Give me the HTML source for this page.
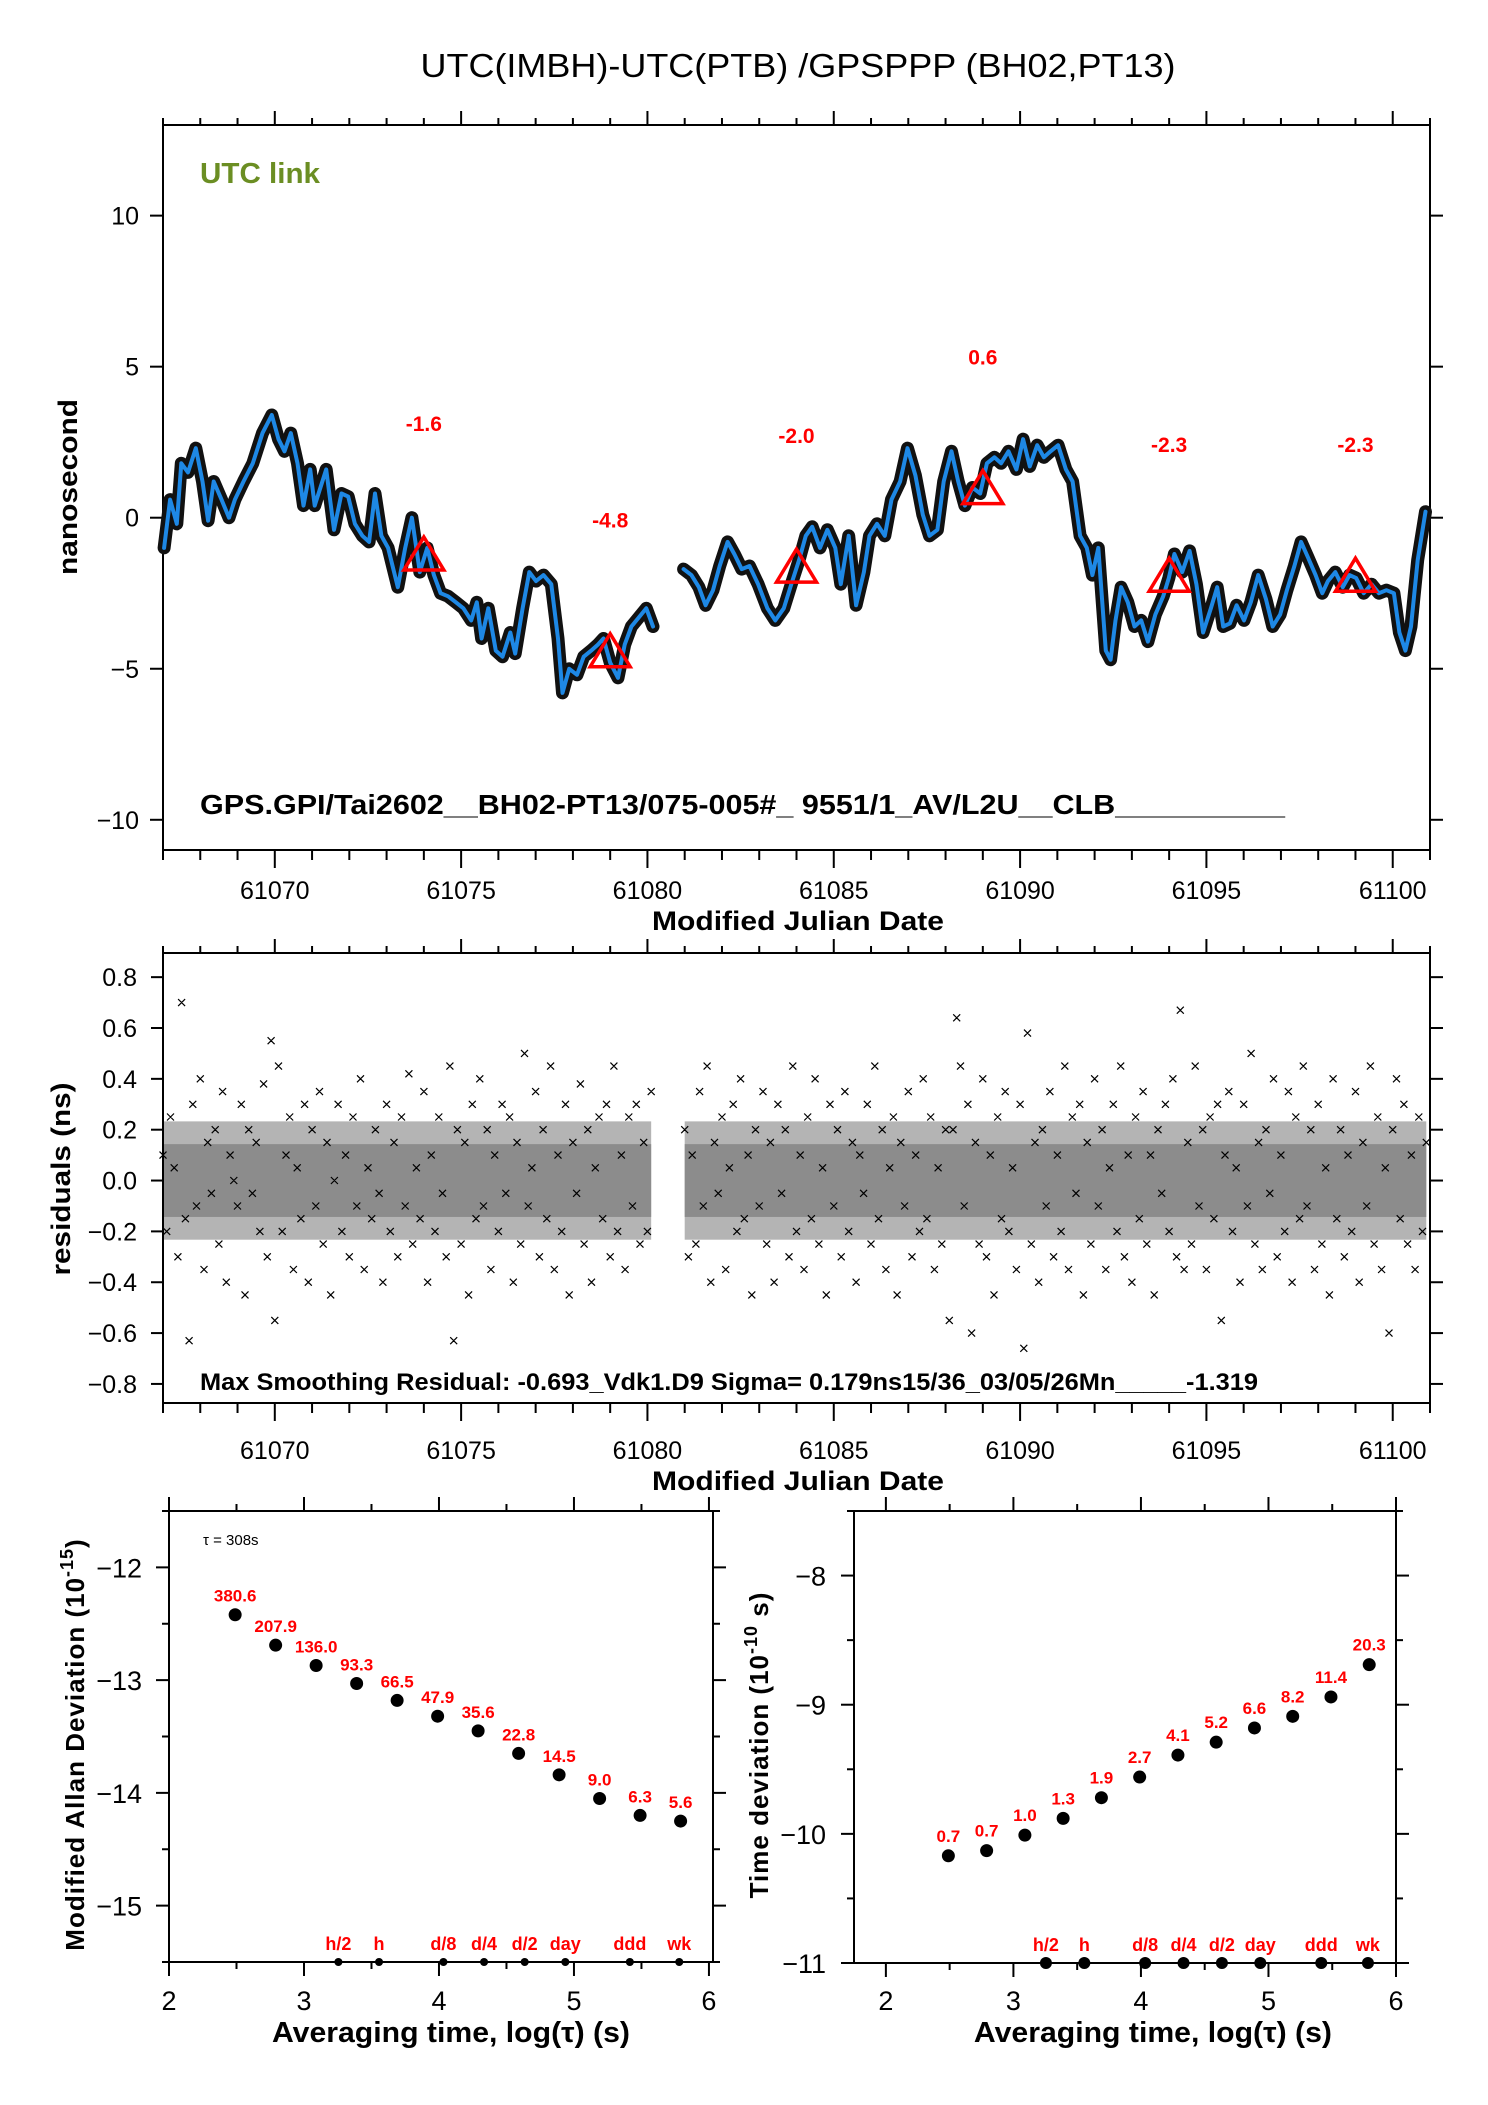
<!DOCTYPE html>
<html><head><meta charset="utf-8"><style>
html,body{margin:0;padding:0;background:#fff}
svg{display:block;font-family:"Liberation Sans",Arial,sans-serif}
</style></head><body>
<svg id="fig" xmlns="http://www.w3.org/2000/svg" width="1488" height="2105" viewBox="0 0 1488 2105">
<rect width="1488" height="2105" fill="#fff"/>
<text x="798" y="77" font-size="33" text-anchor="middle" textLength="755" lengthAdjust="spacingAndGlyphs">UTC(IMBH)-UTC(PTB)  /GPSPPP  (BH02,PT13)</text>
<g id="g1"></g>
<g id="g2"></g>
<g id="g3"></g>
<g id="g4"></g>
</svg>
<script>
// ---- Panel 1 data ----
const tsMjd1 = [61067.03,61067.19,61067.37,61067.49,61067.67,61067.88,61068.06,61068.21,61068.36,61068.57,61068.77,61068.93,61069.16,61069.41,61069.67,61069.92,61070.10,61070.26,61070.43,61070.61,61070.77,61070.95,61071.07,61071.38,61071.59,61071.79,61071.97,61072.15,61072.35,61072.53,61072.69,61072.86,61073.04,61073.30,61073.50,61073.68,61073.89,61074.09,61074.27,61074.45,61074.65,61074.86,61075.06,61075.27,61075.42,61075.55,61075.73,61075.93,61076.11,61076.32,61076.45,61076.65,61076.83,61077.01,61077.21,61077.42,61077.60,61077.72,61077.90,61078.11,61078.29,61078.49,61078.67,61078.82,61079.00,61079.21,61079.39,61079.57,61079.77,61079.97,61080.15];
const tsVal1 = [-1.0,0.6,-0.2,1.8,1.5,2.3,1.2,-0.1,1.2,0.6,0,0.6,1.2,1.8,2.8,3.4,2.6,2.2,2.8,1.8,0.4,1.6,0.4,1.6,-0.4,0.8,0.7,-0.2,-0.6,-0.8,0.8,-0.6,-1.0,-2.3,-1.0,0,-1.8,-1.0,-1.9,-2.5,-2.6,-2.8,-3.0,-3.4,-2.8,-4.0,-3.0,-4.4,-4.6,-3.8,-4.5,-3.0,-1.8,-2.1,-1.9,-2.2,-4.0,-5.8,-5.0,-5.2,-4.6,-4.4,-4.2,-4.0,-4.8,-5.3,-4.2,-3.6,-3.3,-3.0,-3.6];
const tsMjd2 = [61080.97,61081.18,61081.38,61081.56,61081.76,61081.94,61082.15,61082.33,61082.53,61082.74,61082.97,61083.22,61083.43,61083.66,61083.86,61084.07,61084.25,61084.42,61084.63,61084.83,61085.04,61085.19,61085.40,61085.60,61085.81,61085.96,61086.16,61086.37,61086.55,61086.78,61086.98,61087.19,61087.39,61087.57,61087.78,61087.95,61088.16,61088.34,61088.52,61088.72,61088.93,61089.11,61089.31,61089.49,61089.69,61089.90,61090.08,61090.26,61090.46,61090.64,61090.82,61091.02,61091.23,61091.41,61091.61,61091.79,61091.94,61092.10,61092.30,61092.43,61092.56,61092.71,61092.89,61093.07,61093.25,61093.43,61093.63,61093.84,61093.99,61094.14,61094.35,61094.55,61094.73,61094.91,61095.12,61095.29,61095.45,61095.63,61095.81,61096.01,61096.19,61096.39,61096.60,61096.78,61096.98,61097.16,61097.36,61097.54,61097.72,61097.93,61098.11,61098.26,61098.46,61098.66,61098.84,61099.02,61099.22,61099.43,61099.63,61099.83,61100.03,61100.18,61100.34,61100.49,61100.67,61100.88];
const tsVal2 = [-1.7,-1.9,-2.3,-2.9,-2.4,-1.6,-0.8,-1.2,-1.7,-1.6,-2.2,-3.0,-3.4,-3.0,-2.2,-1.4,-0.6,-0.3,-1.0,-0.4,-1.0,-2.2,-0.6,-2.9,-1.8,-0.6,-0.2,-0.6,0.6,1.2,2.3,1.4,0.1,-0.6,-0.4,1.2,2.2,1.2,0.4,1.0,0.8,1.8,2.0,1.8,2.2,1.6,2.6,1.7,2.4,2.0,2.2,2.4,1.6,1.2,-0.6,-1.0,-1.9,-1.0,-4.4,-4.7,-3.4,-2.3,-2.8,-3.6,-3.4,-4.1,-3.2,-2.6,-2.0,-1.2,-1.8,-1.1,-2.2,-3.8,-3.0,-2.3,-3.6,-3.5,-2.9,-3.4,-2.8,-1.9,-2.7,-3.6,-3.2,-2.4,-1.6,-0.8,-1.3,-1.9,-2.5,-2.1,-1.8,-2.3,-1.9,-2.0,-2.5,-2.2,-2.5,-2.4,-2.5,-3.8,-4.4,-3.6,-1.4,0.2];
const triMjd = [61074,61079,61084,61089,61094,61099];
const triVal = [-1.6,-4.8,-2.0,0.6,-2.3,-2.3];
const triLabels = ["-1.6","-4.8","-2.0","0.6","-2.3","-2.3"];
const mjdTicks = [61070,61075,61080,61085,61090,61095,61100];
const nsTicks = [-10,-5,0,5,10];
const nsTickLabels = ["\u221210","\u22125","0","5","10"];
// ---- Panel 2 data ----
const resStart1 = 61067.0, resStart2 = 61081.0, resStep = 0.1;
const resid1 = [10,-20,25,5,-30,70,-15,-63,30,-10,40,-35,15,-5,20,-25,35,-40,10,0,-10,30,-45,20,-5,15,-20,38,-30,55,-55,45,-20,10,25,-35,5,-15,30,-40,20,-10,35,-25,15,-45,0,30,-20,10,-30,25,-10,40,-35,5,-15,20,-5,-40,30,-20,15,-30,25,-10,42,-25,5,-15,35,-40,10,-20,25,-5,-30,45,-63,20,-25,15,-45,30,-15,40,-10,20,-35,10,-20,30,-5,25,-40,15,-25,50,-10,5,35,-30,20,-15,45,-35,10,-20,30,-45,15,-5,38,-25,20,-40,5,25,-15,30,-30,45,-20,10,-35,25,-10,30,-25,15,-20,35];
const resid2 = [20,-30,10,-25,35,-10,45,-40,15,-5,25,-35,5,30,-20,40,-15,10,-45,20,-10,35,-25,15,-40,30,-5,20,-30,45,-20,10,-35,25,-15,40,-25,5,-45,30,-10,20,-30,35,-20,15,-40,10,-5,30,-25,45,-15,20,-35,5,25,-45,15,-10,35,-30,10,-20,40,-15,25,-35,5,-25,20,-55,20,64,45,-10,30,-60,15,-25,40,-30,10,-45,25,-15,35,-20,5,-35,30,-66,58,-25,15,-40,20,-10,35,-30,10,-20,45,-35,25,-5,30,-45,15,-25,40,-10,20,-35,5,30,-20,45,-30,10,-40,25,-15,35,-25,10,-45,20,-5,30,-20,40,-30,67,-35,15,-25,45,-10,20,-35,25,-15,30,-55,10,35,-20,5,-40,30,-10,50,-25,15,-35,20,-5,40,-30,10,-20,35,-40,25,-15,45,-10,20,-35,30,-25,5,-45,40,-15,20,-30,10,-20,35,-40,15,-10,45,-25,25,-35,5,-60,20,40,-15,30,-25,10,-35,25,-20,15];
const sigma = 0.179;
const resTicks = [-0.8,-0.6,-0.4,-0.2,0,0.2,0.4,0.6,0.8];
const resTickLabels = ["\u22120.8","\u22120.6","\u22120.4","\u22120.2","0.0","0.2","0.4","0.6","0.8"];
// ---- Panel 3/4 data ----
const logTau = [2.49,2.79,3.09,3.39,3.69,3.99,4.29,4.59,4.89,5.19,5.49,5.79];
const mdevVal = [-12.42,-12.69,-12.87,-13.03,-13.18,-13.32,-13.45,-13.65,-13.84,-14.05,-14.2,-14.25];
const mdevLabels = ["380.6","207.9","136.0","93.3","66.5","47.9","35.6","22.8","14.5","9.0","6.3","5.6"];
const tdevVal = [-10.17,-10.13,-10.01,-9.88,-9.72,-9.56,-9.39,-9.29,-9.18,-9.09,-8.94,-8.69];
const tdevLabels = ["0.7","0.7","1.0","1.3","1.9","2.7","4.1","5.2","6.6","8.2","11.4","20.3"];
const markTau = [3.255,3.556,4.033,4.334,4.635,4.936,5.414,5.78];
const markLabels = ["h/2","h","d/8","d/4","d/2","day","ddd","wk"];
const logTicks = [2,3,4,5,6];
const mdevTicks = [-15,-14,-13,-12];
const tdevTicks = [-11,-10,-9,-8];

const NS = "http://www.w3.org/2000/svg";
function mk(parent, tag, attrs, txt){
  const e = document.createElementNS(NS, tag);
  for (const k in attrs) e.setAttribute(k, attrs[k]);
  if (txt !== undefined) e.textContent = txt;
  parent.appendChild(e);
  return e;
}
function lin(d0,d1,r0,r1){ return v => r0 + (v-d0)*(r1-r0)/(d1-d0); }

// ================= Panel 1 =================
(function(){
  const g = document.getElementById('g1');
  const L=163,R=1430,T=125,B=850;
  const x = lin(61067,61101,L,R), y = lin(-11,13,B,T);
  const frame = mk(g,'rect',{x:L,y:T,width:R-L,height:B-T,fill:'none',stroke:'#000','stroke-width':2});
   
  for (let d=61067; d<=61101; d++){
    const major = d%5===0;
    const len = major?18:10;
    const tb = mk(g,'line',{x1:x(d),x2:x(d),y1:B,y2:B+len,stroke:'#000','stroke-width':2});
     
    const tt = mk(g,'line',{x1:x(d),x2:x(d),y1:T,y2:T-(major?14:7),stroke:'#000','stroke-width':2});
     
  }
  mjdTicks.forEach(m=>{
    const t = mk(g,'text',{x:x(m),y:899,'font-size':25,'text-anchor':'middle'},String(m));
     
  });
  nsTicks.forEach((v,i)=>{
    const a = mk(g,'line',{x1:L-13,x2:L,y1:y(v),y2:y(v),stroke:'#000','stroke-width':2});
     
    const b = mk(g,'line',{x1:R,x2:R+13,y1:y(v),y2:y(v),stroke:'#000','stroke-width':2});
     
    const t = mk(g,'text',{x:139,y:y(v)+9,'font-size':25,'text-anchor':'end'},nsTickLabels[i]);
     
  });
  const xt = mk(g,'text',{x:798,y:930,'font-size':27,'font-weight':'bold','text-anchor':'middle',textLength:292,lengthAdjust:'spacingAndGlyphs'},'Modified Julian Date');
   
  const yt = mk(g,'text',{x:0,y:0,'font-size':27,'font-weight':'bold','text-anchor':'middle',textLength:176,lengthAdjust:'spacingAndGlyphs',transform:'translate(77,487) rotate(-90)'},'nanosecond');
   
  const ul = mk(g,'text',{x:200,y:183,'font-size':29,'font-weight':'bold',fill:'#6b8e23',textLength:120,lengthAdjust:'spacingAndGlyphs'},'UTC link');
   
  const gl = mk(g,'text',{x:200,y:814,'font-size':28,'font-weight':'bold',textLength:1085,lengthAdjust:'spacingAndGlyphs'},'GPS.GPI/Tai2602__BH02-PT13/075-005#_  9551/1_AV/L2U__CLB__________');
   
  [[tsMjd1,tsVal1],[tsMjd2,tsVal2]].forEach(([ms,vs],si)=>{
    const pts = ms.map((m,i)=>x(m).toFixed(1)+','+y(vs[i]).toFixed(1)).join(' ');
    const raw = mk(g,'polyline',{points:pts,fill:'none',stroke:'#111','stroke-width':13,'stroke-linejoin':'round','stroke-linecap':'round'});
     
    const sm = mk(g,'polyline',{points:pts,fill:'none',stroke:'#1e88e5','stroke-width':4,'stroke-linejoin':'round','stroke-linecap':'round'});
     
  });
  triMjd.forEach((m,i)=>{
    const cx=x(m), cy=y(triVal[i]);
    const tr = mk(g,'polygon',{points:`${cx-20},${cy+4} ${cx+20},${cy+4} ${cx},${cy-29}`,fill:'none',stroke:'#f00','stroke-width':3.5});
     
    const lb = mk(g,'text',{x:cx,y:cy-135,'font-size':21,'font-weight':'bold',fill:'#f00','text-anchor':'middle'},triLabels[i]);
     
  });
})();

// ================= Panel 2 =================
(function(){
  const g = document.getElementById('g2');
  const L=163,R=1430,T=953,B=1403;
  const x = lin(61067,61101,L,R), y = lin(-0.875,0.895,B,T);
  [[resStart1,resid1],[resStart2,resid2]].forEach(([s,arr])=>{
    const band = mk(g,'rect',{x:x(s),y:y(sigma*1.3),width:x(s+resStep*(arr.length-1))-x(s),height:y(-sigma*1.3)-y(sigma*1.3),fill:'#b4b4b4'});
     
    const band2 = mk(g,'rect',{x:x(s),y:y(sigma*0.8),width:x(s+resStep*(arr.length-1))-x(s),height:y(-sigma*0.8)-y(sigma*0.8),fill:'#8c8c8c'});
     
  });
  [[resStart1,resid1],[resStart2,resid2]].forEach(([s,arr])=>{
    let d='';
    arr.forEach((v,i)=>{
      const cx=x(s+i*resStep), cy=y(v/100);
      d+=`M${(cx-3.5).toFixed(1)},${(cy-3.5).toFixed(1)}l7,7M${(cx-3.5).toFixed(1)},${(cy+3.5).toFixed(1)}l7,-7`;
    });
    const p = mk(g,'path',{d:d,stroke:'#000','stroke-width':1.2,fill:'none'});
     
  });
  const frame = mk(g,'rect',{x:L,y:T,width:R-L,height:B-T,fill:'none',stroke:'#000','stroke-width':2});
   
  for (let d=61067; d<=61101; d++){
    const major = d%5===0;
    const tb = mk(g,'line',{x1:x(d),x2:x(d),y1:B,y2:B+(major?18:10),stroke:'#000','stroke-width':2});
     
    const tt = mk(g,'line',{x1:x(d),x2:x(d),y1:T,y2:T-(major?14:7),stroke:'#000','stroke-width':2});
     
  }
  mjdTicks.forEach(m=>{
    const t = mk(g,'text',{x:x(m),y:1459,'font-size':25,'text-anchor':'middle'},String(m));
     
  });
  resTicks.forEach((v,i)=>{
    const a = mk(g,'line',{x1:L-12,x2:L,y1:y(v),y2:y(v),stroke:'#000','stroke-width':2});
     
    const b = mk(g,'line',{x1:R,x2:R+13,y1:y(v),y2:y(v),stroke:'#000','stroke-width':2});
     
    const t = mk(g,'text',{x:137,y:y(v)+9,'font-size':25,'text-anchor':'end'},resTickLabels[i]);
     
  });
  const xt = mk(g,'text',{x:798,y:1490,'font-size':27,'font-weight':'bold','text-anchor':'middle',textLength:292,lengthAdjust:'spacingAndGlyphs'},'Modified Julian Date');
   
  const yt = mk(g,'text',{x:0,y:0,'font-size':27,'font-weight':'bold','text-anchor':'middle',textLength:193,lengthAdjust:'spacingAndGlyphs',transform:'translate(70,1179) rotate(-90)'},'residuals (ns)');
   
  const info = mk(g,'text',{x:200,y:1390,'font-size':24,'font-weight':'bold',textLength:1058,lengthAdjust:'spacingAndGlyphs'},'Max Smoothing Residual: -0.693_Vdk1.D9  Sigma= 0.179ns15/36_03/05/26Mn_____-1.319');
   
})();

// ================= Panels 3 & 4 =================
function stabPanel(gid, L,R,T,B, xd0,xd1, yd0,yd1, yTicks, vals, labels, markR, yTitleMain, yExp, yTitleTail, ytx, tickLabX, lblOff, tauNote){
  const g = document.getElementById(gid);
  const x = lin(xd0,xd1,L,R), y = lin(yd0,yd1,B,T);
  const frame = mk(g,'rect',{x:L,y:T,width:R-L,height:B-T,fill:'none',stroke:'#000','stroke-width':2});
   
  for (let v=2; v<=6.001; v+=0.5){
    const major = Math.abs(v-Math.round(v))<0.01;
    const tb = mk(g,'line',{x1:x(v),x2:x(v),y1:B,y2:B+(major?14:7),stroke:'#000','stroke-width':2});
     
    const tt = mk(g,'line',{x1:x(v),x2:x(v),y1:T,y2:T-(major?14:7),stroke:'#000','stroke-width':2});
     
  }
  logTicks.forEach(v=>{
    const t = mk(g,'text',{x:x(v),y:2010,'font-size':27,'text-anchor':'middle'},String(v));
     
  });
  for (let v=yd0; v<=yd1+0.001; v+=0.5){
    const major = Math.abs(v-Math.round(v))<0.01;
    const a = mk(g,'line',{x1:L-(major?13:7),x2:L,y1:y(v),y2:y(v),stroke:'#000','stroke-width':2});
     
    const b = mk(g,'line',{x1:R,x2:R+(major?13:7),y1:y(v),y2:y(v),stroke:'#000','stroke-width':2});
     
  }
  yTicks.forEach(v=>{
    const t = mk(g,'text',{x:tickLabX,y:y(v)+10,'font-size':27,'text-anchor':'end'},'\u2212'+Math.abs(v));
     
  });
  const xt = mk(g,'text',{x:(x(2)+x(6))/2+12,y:2042,'font-size':29,'font-weight':'bold','text-anchor':'middle',textLength:358,lengthAdjust:'spacingAndGlyphs'});
   
  xt.textContent = 'Averaging time, log(\u03c4) (s)';
  const yt = mk(g,'text',{x:0,y:0,'font-size':26,'font-weight':'bold','text-anchor':'middle','letter-spacing':1,transform:`translate(${ytx},${(T+B)/2+8}) rotate(-90)`});
   
  mk(yt,'tspan',{},yTitleMain);
  mk(yt,'tspan',{'font-size':18,dy:-11},yExp);
  mk(yt,'tspan',{dy:11},yTitleTail);
  logTau.forEach((v,i)=>{
    const c = mk(g,'circle',{cx:x(v),cy:y(vals[i]),r:6.5,fill:'#000'});
     
    const t = mk(g,'text',{x:x(v),y:y(vals[i])-lblOff,'font-size':17,'font-weight':'bold',fill:'#f00','text-anchor':'middle'},labels[i]);
     
  });
  markTau.forEach((v,i)=>{
    const c = mk(g,'circle',{cx:x(v),cy:B,r:markR,fill:'#000'});
     
    const t = mk(g,'text',{x:x(v),y:B-12,'font-size':18,'font-weight':'bold',fill:'#f00','text-anchor':'middle'},markLabels[i]);
     
  });
  if (tauNote){
    const n = mk(g,'text',{x:203,y:1545,'font-size':15},'\u03c4 = 308s');
     
  }
}
stabPanel('g3',169,713,1511,1962,2,6.03,-15.5,-11.5,mdevTicks,mdevVal,mdevLabels,4,'Modified Allan Deviation (10','-15',')',84,142,13,true);
stabPanel('g4',854,1396,1511,1963,1.75,6.0,-11,-7.5,tdevTicks,tdevVal,tdevLabels,6,'Time deviation (10','-10',' s)',768,826,14,false);
</script>
</body></html>
